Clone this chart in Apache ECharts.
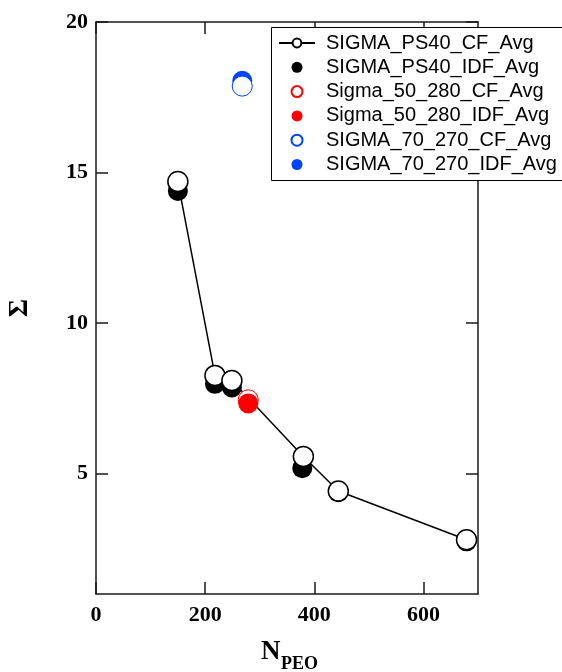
<!DOCTYPE html>
<html>
<head>
<meta charset="utf-8">
<script src="https://cdn.jsdelivr.net/npm/echarts@6/dist/echarts.min.js"></script>
<style>
  html, body { margin: 0; padding: 0; background: #fff; }
  #chart { width: 562px; height: 672px; }
</style>
</head>
<body>
<div id="chart"></div>
<script>
// Σ versus N_PEO for the three sample sets (CF and IDF averages)
const seriesNames = [
  'SIGMA_PS40_CF_Avg', 'SIGMA_PS40_IDF_Avg',
  'Sigma_50_280_CF_Avg', 'Sigma_50_280_IDF_Avg',
  'SIGMA_70_270_CF_Avg', 'SIGMA_70_270_IDF_Avg'
];
const ps40CfX  = [150, 218, 249, 380, 444, 679];
const ps40CfY  = [14.70, 8.26, 8.09, 5.57, 4.42, 2.80];
const ps40IdfX = [150, 218, 249, 378, 444, 679];
const ps40IdfY = [14.39, 7.98, 7.86, 5.18, 4.38, 2.75];
const s50CfX  = [279];
const s50CfY  = [7.45];
const s50IdfX = [279];
const s50IdfY = [7.33];
const s70CfX  = [268];
const s70CfY  = [17.87];
const s70IdfX = [268];
const s70IdfY = [18.05];

const xTicks = [0, 200, 400, 600];
const yTicks = [5, 10, 15, 20];

const pairs = (xs, ys) => xs.map((x, i) => [x, ys[i]]);

const serif = 'Liberation Serif';
const sans = 'Liberation Sans';
const axisColor = '#1a1a1a';

function xAxisDef(pos, showLabels) {
  return {
    type: 'value', position: pos, min: 0, max: 700,
    axisLine: { show: true, onZero: false, lineStyle: { color: axisColor, width: 1.5 } },
    axisTick: { show: true, inside: true, length: 12, customValues: xTicks,
                lineStyle: { color: axisColor, width: 1.5 } },
    axisLabel: { show: showLabels, customValues: xTicks, margin: 10,
                 fontFamily: serif, fontWeight: 'bold', fontSize: 22, color: '#000' },
    splitLine: { show: false }
  };
}
function yAxisDef(pos, showLabels) {
  return {
    type: 'value', position: pos, min: 1, max: 20,
    axisLine: { show: true, onZero: false, lineStyle: { color: axisColor, width: 1.5 } },
    axisTick: { show: true, inside: true, length: 12, customValues: yTicks,
                lineStyle: { color: axisColor, width: 1.5 } },
    axisLabel: { show: showLabels, customValues: yTicks, margin: 8,
                 fontFamily: serif, fontWeight: 'bold', fontSize: 22, color: '#000' },
    splitLine: { show: false }
  };
}

const openStyle = c => ({ color: '#fff', borderColor: c, borderWidth: c === '#000' ? 1.5 : 1, opacity: 1 });
const fillStyle = c => ({ color: c, opacity: 1 });

const chart = echarts.init(document.getElementById('chart'), null, { renderer: 'canvas' });
chart.setOption({
  animation: false,
  backgroundColor: '#fff',
  grid: { left: 96, right: 84, top: 22, bottom: 78 },
  xAxis: [xAxisDef('bottom', true), xAxisDef('top', false)],
  yAxis: [yAxisDef('left', true), yAxisDef('right', false)],
  legend: {
    data: seriesNames,
    orient: 'vertical',
    left: 271, top: 27,
    padding: [6, 10, 4, 7],
    itemWidth: 36, itemHeight: 11, itemGap: 4.3,
    backgroundColor: 'transparent',
    borderWidth: 0,
    textStyle: { fontFamily: sans, fontSize: 20, color: '#000', lineHeight: 20, padding: [0, 0, 0, 6] },
    z: 10
  },
  series: [
    { name: seriesNames[1], type: 'scatter', data: pairs(ps40IdfX, ps40IdfY),
      symbol: 'circle', symbolSize: 20, itemStyle: fillStyle('#000'), z: 2 },
    { name: seriesNames[0], type: 'line', data: pairs(ps40CfX, ps40CfY),
      symbol: 'circle', symbolSize: 20, showAllSymbol: true,
      lineStyle: { color: '#000', width: 1.5 }, itemStyle: openStyle('#000'), z: 3 },
    { name: seriesNames[2], type: 'scatter', data: pairs(s50CfX, s50CfY),
      symbol: 'circle', symbolSize: 20, itemStyle: openStyle('#ff0000'), z: 4 },
    { name: seriesNames[3], type: 'scatter', data: pairs(s50IdfX, s50IdfY),
      symbol: 'circle', symbolSize: 20, itemStyle: fillStyle('#ff0000'), z: 5 },
    { name: seriesNames[5], type: 'scatter', data: pairs(s70IdfX, s70IdfY),
      symbol: 'circle', symbolSize: 20, itemStyle: fillStyle('#0044ff'), z: 4 },
    { name: seriesNames[4], type: 'scatter', data: pairs(s70CfX, s70CfY),
      symbol: 'circle', symbolSize: 20, itemStyle: openStyle('#0044ff'), z: 5 }
  ],
  graphic: [
    // legend frame, running off the right edge of the canvas
    { type: 'rect', z: 8, shape: { x: 271.5, y: 27.5, width: 320, height: 153 },
      style: { fill: '#fff', stroke: '#000', lineWidth: 1 } },
    { type: 'text', x: 20, y: 308, rotation: Math.PI / 2,
      style: { text: 'Σ', font: 'bold 28px "Liberation Serif"', fill: '#000',
               align: 'center', verticalAlign: 'middle' } },
    { type: 'text', x: 261, y: 652,
      style: { text: 'N', font: 'bold 27px "Liberation Serif"', fill: '#000',
               align: 'left', verticalAlign: 'middle' } },
    { type: 'text', x: 281, y: 664,
      style: { text: 'PEO', font: 'bold 18px "Liberation Serif"', fill: '#000',
               align: 'left', verticalAlign: 'middle' } }
  ]
});
</script>
</body>
</html>
